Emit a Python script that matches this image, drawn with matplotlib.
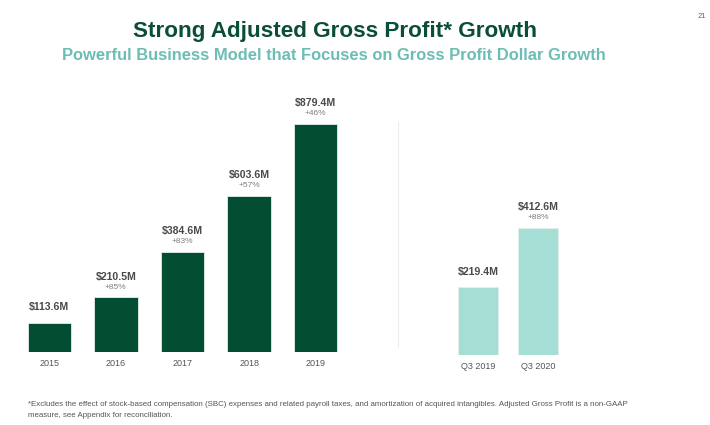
import matplotlib
matplotlib.use('Agg')
from matplotlib import pyplot as plt
from matplotlib.lines import Line2D

plt.rcParams['font.family'] = ['Liberation Sans', 'DejaVu Sans']

# annual adjusted gross profit, $M
years = ['2015', '2016', '2017', '2018', '2019']
annual = [113.6, 210.5, 384.6, 603.6, 879.4]
annual_growth = ['', '+85%', '+83%', '+57%', '+46%']

# quarterly
quarters = ['Q3 2019', 'Q3 2020']
quarterly = [219.4, 412.6]
quarterly_growth = ['', '+88%']

DARK = '#034d33'
TEAL = '#a4ded4'
W, H = 710, 425

fig = plt.figure(figsize=(W / 100, H / 100), dpi=100)


def px_axes(x0, x1, base, top):
    # pixel box -> figure fraction
    return fig.add_axes([x0 / W, (H - base) / H, (x1 - x0) / W, (base - top) / H])


def draw(ax, names, vals, growth, color, width, ymax):
    xs = range(len(vals))
    ax.bar(xs, vals, width=width, color=color, edgecolor='#e6efe9', linewidth=0.6)
    ax.set_xlim(-0.5, len(vals) - 0.5)
    ax.set_ylim(0, ymax)
    ax.set_xticks(list(xs))
    ax.set_xticklabels(names, fontsize=6.5, color='#555555')
    ax.tick_params(axis='x', length=0, pad=5)
    ax.set_yticks([])
    for s in ax.spines.values():
        s.set_visible(False)
    for x, v, g in zip(xs, vals, growth):
        if g:
            ax.annotate('$%.1fM' % v, (x, v), xytext=(0, 15), textcoords='offset points',
                        ha='center', va='center', fontsize=7.6, fontweight='bold', color='#4a4a4a')
            ax.annotate(g, (x, v), xytext=(0, 7.5), textcoords='offset points',
                        ha='center', va='center', fontsize=6, color='#808080')
        else:
            ax.annotate('$%.1fM' % v, (x, v), xytext=(0, 11.5), textcoords='offset points',
                        ha='center', va='center', fontsize=7.6, fontweight='bold', color='#4a4a4a')


ax1 = px_axes(16, 349, 352, 352 - 1000 / 3.857)
draw(ax1, years, annual, annual_growth, DARK, 0.65, 1000)

ax2 = px_axes(448, 568, 355, 355 - 800 / 3.25)
draw(ax2, quarters, quarterly, quarterly_growth, TEAL, 0.67, 800)

# divider
fig.add_artist(Line2D([398 / W, 398 / W], [(H - 347) / H, (H - 122) / H],
                      color='#ececec', linewidth=0.8))

fig.text(335 / W, 1 - 32 / H, 'Strong Adjusted Gross Profit* Growth', ha='center', va='center',
         fontsize=16.2, fontweight='bold', color='#0b4d3b')
fig.text(334 / W, 1 - 56 / H, 'Powerful Business Model that Focuses on Gross Profit Dollar Growth',
         ha='center', va='center', fontsize=11.9, fontweight='bold', color='#6cbdb4')
fig.text(702 / W, 1 - 16 / H, '21', ha='center', va='center', fontsize=5.5, color='#4d6b60')

fig.text(28 / W, 1 - 404 / H,
         '*Excludes the effect of stock-based compensation (SBC) expenses and related payroll taxes, '
         'and amortization of acquired intangibles. Adjusted Gross Profit is a non-GAAP',
         ha='left', va='center', fontsize=5.7, color='#555555')
fig.text(28 / W, 1 - 415.5 / H, 'measure, see Appendix for reconciliation.',
         ha='left', va='center', fontsize=5.7, color='#555555')

fig.savefig('out.png', dpi=100)
